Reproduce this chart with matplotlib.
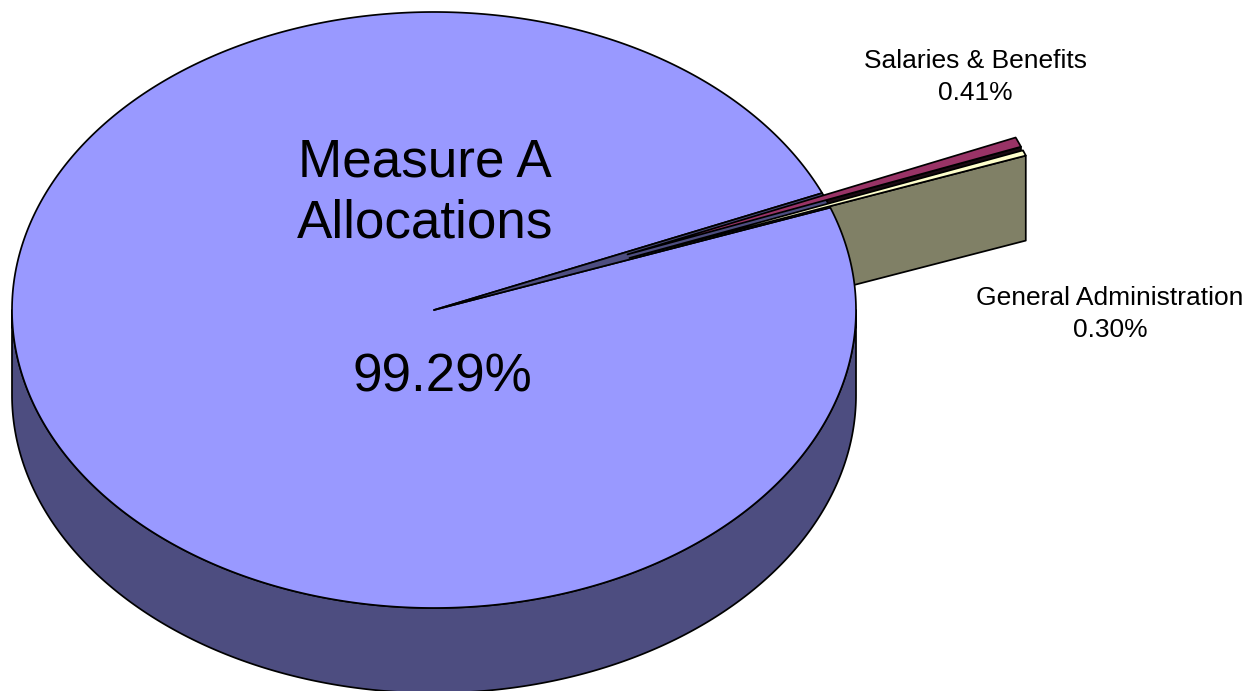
import numpy as np
import matplotlib
matplotlib.use("Agg")
import matplotlib.pyplot as plt
from matplotlib.patches import Polygon

plt.rcParams['font.family'] = ['Liberation Sans', 'DejaVu Sans']

categories = ["Measure A\nAllocations", "Salaries & Benefits", "General Administration"]
shares = [99.29, 0.41, 0.30]
tops = ["#9999FF", "#993366", "#FFFFCC"]
walls = ["#4D4D80", "#1A0A12", "#808066"]
explode = [0.0, 0.495, 0.495]

CX, CY, RX, RY, DEPTH = 434, 310, 422, 298, 85
START = 20.1      # degrees, counter-clockwise, General Administration starts here
SAL_SWEEP = 1.3   # the thin magenta slice reads a little wider than its share
LW = 1.25


def pt(a, r=1.0, off=(0, 0)):
    a = np.radians(a)
    return (CX + RX * (r * np.cos(a) + off[0]), CY - RY * (r * np.sin(a) + off[1]))


def arc(a0, a1, off=(0, 0), dy=0):
    t = np.linspace(a0, a1, max(int(abs(a1 - a0) * 2), 8))
    x, y = pt(t, 1.0, off)
    return np.column_stack([x, y + dy])


fig = plt.figure(figsize=(12.57, 6.91), dpi=100)
ax = fig.add_axes([0, 0, 1, 1])
ax.set_xlim(0, 1257)
ax.set_ylim(691, 0)
ax.axis("off")


def poly(points, color, z):
    ax.add_patch(Polygon(points, closed=True, facecolor=color, edgecolor="black",
                         linewidth=LW, joinstyle="round", zorder=z))


# slice angles from the shares
gen0 = START
gen1 = gen0 + shares[2] * 3.6
sal0 = gen1
sal1 = sal0 + shares[1] * 3.6 * SAL_SWEEP
main0 = sal1
main1 = gen0 + 360

# outer wall of the big slice
upper = arc(180, 360)
poly(np.vstack([upper, arc(360, 180, dy=DEPTH)]), walls[0], 1)

# offsets of the pulled-out slices
mid_s = np.radians((sal0 + sal1) / 2)
mid_g = np.radians((gen0 + gen1) / 2)
off_s = (explode[1] * np.cos(mid_s), explode[1] * np.sin(mid_s))
off_g = (explode[2] * np.cos(mid_g), explode[2] * np.sin(mid_g))

# lower cut walls of the pulled-out slices
for a, off, col, z in [(sal0, off_s, walls[1], 2), (gen0, off_g, walls[2], 3)]:
    apex = pt(a, 0.0, off)
    tip = pt(a, 1.0, off)
    poly([apex, tip, (tip[0], tip[1] + DEPTH), (apex[0], apex[1] + DEPTH)], col, z)

# top of the big slice and the gap left in it
poly(np.vstack([[(CX, CY)], arc(main0, main1)]), tops[0], 4)
poly(np.vstack([[(CX, CY)], arc(gen0, sal1)]), walls[0], 5)

# tops of the pulled-out slices
poly(np.vstack([[pt(0, 0.0, off_s)], arc(sal0, sal1, off_s)]), tops[1], 6)
poly(np.vstack([[pt(0, 0.0, off_g)], arc(gen0, gen1, off_g)]), tops[2], 7)

big = 38.2
small = 19
ax.text(425, 193, categories[0], fontsize=big, ha="center", va="center",
        linespacing=1.27, color="black", zorder=10)
ax.text(442, 377, f"{shares[0]:.2f}%", fontsize=big, ha="center", va="center", zorder=10)
ax.text(975, 61, categories[1], fontsize=small, ha="center", va="center", zorder=10)
ax.text(975, 93, f"{shares[1]:.2f}%", fontsize=small, ha="center", va="center", zorder=10)
ax.text(1110, 298, categories[2], fontsize=small, ha="center", va="center", zorder=10)
ax.text(1110, 330, f"{shares[2]:.2f}%", fontsize=small, ha="center", va="center", zorder=10)

fig.savefig("out.png", dpi=100, facecolor="white")
